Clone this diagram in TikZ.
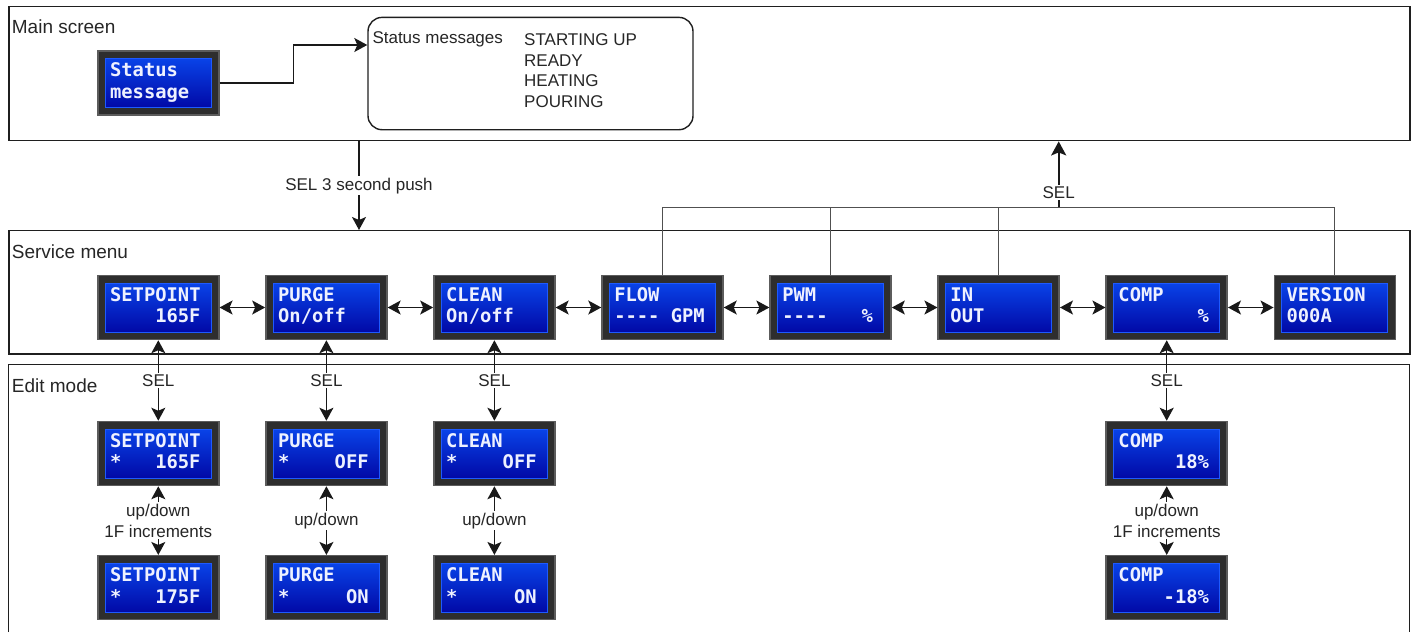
\documentclass[tikz,border=0pt]{standalone}
\usepackage{fontspec}
\setmainfont{Liberation Sans}
\newfontfamily\lcdfamily{DejaVu Sans Mono}
\usetikzlibrary{arrows.meta}

\definecolor{lcdcase}{HTML}{2E2E2E}
\definecolor{lcdrim}{HTML}{5C5C5C}
\definecolor{lcdtop}{HTML}{0A4CF2}
\definecolor{lcdbot}{HTML}{00009C}
\definecolor{lcdedge}{HTML}{1E5AFF}
\definecolor{lcdtext}{HTML}{EEF1FF}
\definecolor{buscol}{HTML}{505050}

% two text rows of the display: top row, bottom row left and right
\newcommand{\lcdtxt}[3]{\vbox{\baselineskip=21.6pt\lineskiplimit=-100pt%
  \hbox to 96.5pt{\vrule height14.3pt depth5pt width0pt#1\hfill}%
  \hbox to 96.5pt{\vrule height14.3pt depth5pt width0pt#2\hfill#3\kern6pt}}}

\tikzset{
  lcd/.style={draw=lcdrim, fill=lcdcase, line width=1.5pt, inner sep=0pt,
    minimum width=121pt, minimum height=64pt, text=lcdtext,
    font={\lcdfamily\bfseries\fontsize{18.8pt}{21.6pt}\selectfont},
    path picture={\shadedraw[top color=lcdtop, bottom color=lcdbot, draw=lcdedge, line width=0.8pt]
      ([shift={(7.5pt,-7.5pt)}]path picture bounding box.north west) rectangle
      ([shift={(-7.5pt,7.5pt)}]path picture bounding box.south east);}},
  frame/.style={draw=black!88, line width=1.4pt, inner sep=0pt},
  grouplabel/.style={anchor=base west, inner sep=0pt, text=black!85,
    font={\fontsize{19pt}{22pt}\selectfont}},
  txt/.style={anchor=base west, inner sep=0pt, text=black!85,
    font={\fontsize{17pt}{21pt}\selectfont}},
  lbl/.style={fill=white, inner sep=1.5pt, text=black!85, align=center,
    font={\fontsize{17pt}{21pt}\selectfont}},
  arr/.style={-{Stealth[length=13pt,width=14pt,inset=3pt]}, line width=1.4pt, black!90},
  darr/.style={{Stealth[length=13pt,width=14pt,inset=3pt]}-{Stealth[length=13pt,width=14pt,inset=3pt]},
    line width=1.4pt, black!90},
  bus/.style={draw=buscol, line width=1.3pt}
}

\begin{document}
\begin{tikzpicture}[x=1pt,y=-1pt]
\useasboundingbox (0,0) rectangle (1412,632);

% Groups
\node[frame, minimum width=1401pt, minimum height=134.3pt, anchor=north west] (MS) at (8.3,5.7) {};
\node[frame, minimum width=1401pt, minimum height=123.3pt, anchor=north west] (SM) at (8.3,230) {};
\draw[frame] (8.3,632) |- (1409.3,364.3) -- (1409.3,632);

\node[grouplabel] (MSL) at (11.7,33.3) {Main screen};
\node[grouplabel] (SML) at (11.7,258.3) {Service menu};
\node[grouplabel] (EML) at (11.7,392.7) {Edit mode};

% Main screen
\node[lcd] (ST) at (158.3,82.9) {\lcdtxt{Status}{message}{}};
\node[draw=black!88, line width=1.4pt, rounded corners=14pt, anchor=north west,
  minimum width=325pt, minimum height=112.3pt] (SB) at (367.3,16.7) {};
\node[txt] (SBT) at (372.3,43.3) {Status messages};
\node[txt] (SB1) at (524,45) {STARTING UP};
\node[txt] (SB2) at (524,66.2) {READY};
\node[txt] (SB3) at (524,86.9) {HEATING};
\node[txt] (SB4) at (524,107.5) {POURING};
\draw[arr] (ST.east) -- ++(74,0) |- ([yshift=-28.3pt]SB.north west);

% Service menu row
\node[lcd] (SP) at (158.3,307.5) {\lcdtxt{SETPOINT}{}{165F}};
\node[lcd] (PU) at (326.4,307.5) {\lcdtxt{PURGE}{On/off}{}};
\node[lcd] (CL) at (494.4,307.5) {\lcdtxt{CLEAN}{On/off}{}};
\node[lcd] (FL) at (662.5,307.5) {\lcdtxt{FLOW}{-{}-{}-{}-}{GPM}};
\node[lcd] (PW) at (830.6,307.5) {\lcdtxt{PWM}{-{}-{}-{}-}{\%}};
\node[lcd] (IO) at (998.7,307.5) {\lcdtxt{IN}{OUT}{}};
\node[lcd] (CO) at (1166.7,307.5) {\lcdtxt{COMP}{}{\%}};
\node[lcd] (VE) at (1334.8,307.5) {\lcdtxt{VERSION}{000A}{}};

\draw[darr] (SP) -- (PU);
\draw[darr] (PU) -- (CL);
\draw[darr] (CL) -- (FL);
\draw[darr] (FL) -- (PW);
\draw[darr] (PW) -- (IO);
\draw[darr] (IO) -- (CO);
\draw[darr] (CO) -- (VE);

% Edit mode
\node[lcd] (SP1) at (158.3,453.5) {\lcdtxt{SETPOINT}{*}{165F}};
\node[lcd] (SP2) at (158.3,587.7) {\lcdtxt{SETPOINT}{*}{175F}};
\node[lcd] (PU1) at (326.4,453.5) {\lcdtxt{PURGE}{*}{OFF}};
\node[lcd] (PU2) at (326.4,587.7) {\lcdtxt{PURGE}{*}{ON}};
\node[lcd] (CL1) at (494.4,453.5) {\lcdtxt{CLEAN}{*}{OFF}};
\node[lcd] (CL2) at (494.4,587.7) {\lcdtxt{CLEAN}{*}{ON}};
\node[lcd] (CO1) at (1166.7,453.5) {\lcdtxt{COMP}{}{18\%}};
\node[lcd] (CO2) at (1166.7,587.7) {\lcdtxt{COMP}{}{-18\%}};

\draw[darr] (SP.south) -- (SP1.north) node[midway,lbl]{SEL};
\draw[darr] (PU.south) -- (PU1.north) node[midway,lbl]{SEL};
\draw[darr] (CL.south) -- (CL1.north) node[midway,lbl]{SEL};
\draw[darr] (CO.south) -- (CO1.north) node[midway,lbl]{SEL};

\draw[darr] (SP1.south) -- (SP2.north) node[midway,lbl]{up/down\\1F increments};
\draw[darr] (PU1.south) -- (PU2.north) node[midway,lbl]{up/down};
\draw[darr] (CL1.south) -- (CL2.north) node[midway,lbl]{up/down};
\draw[darr] (CO1.south) -- (CO2.north) node[midway,lbl]{up/down\\1F increments};

% Into the service menu
\coordinate (DN) at (359,0);
\draw[arr] (MS.south -| DN) -- (SM.north -| DN) node[midway,lbl]{SEL 3 second push};

% Back to the main screen
\path (FL.north) ++(0,-67.3) coordinate (BUS);
\coordinate (UP) at (1058.7,0);
\draw[bus] (FL.north) |- (VE.north |- BUS) -- (VE.north);
\draw[bus] (PW.north) -- (PW.north |- BUS);
\draw[bus] (IO.north) -- (IO.north |- BUS);
\draw[arr, line width=2.3pt, -{Stealth[length=14pt,width=15pt,inset=3pt]}] (BUS -| UP) -- (UP |- MS.south)
  node[pos=0.22,lbl]{SEL};

\end{tikzpicture}
\end{document}
